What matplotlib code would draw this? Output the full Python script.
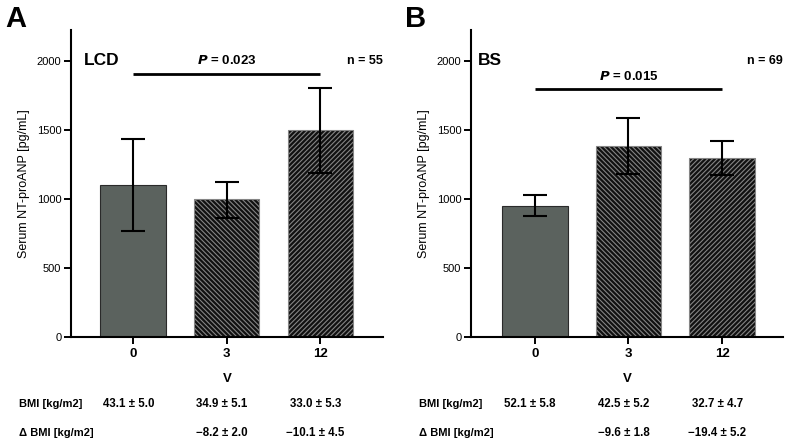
import matplotlib
matplotlib.use('Agg')
import matplotlib.pyplot as plt
import matplotlib.transforms as mtransforms
import numpy as np

plt.rcParams['font.family'] = ['Liberation Sans', 'DejaVu Sans']
plt.rcParams['hatch.linewidth'] = 0.8

# data
visits = ['0', '3', '12']
lcd_mean = [1102, 998, 1500]
lcd_err_hi = [1435, 1121, 1800]
lcd_err_lo = [766, 864, 1186]
bs_mean = [949, 1386, 1295]
bs_err_hi = [1027, 1585, 1415]
bs_err_lo = [877, 1178, 1174]

lcd_bmi = ['43.1 ± 5.0', '34.9 ± 5.1', '33.0 ± 5.3']
lcd_dbmi = ['', '\u22128.2 ± 2.0', '\u221210.1 ± 4.5']
bs_bmi = ['52.1 ± 5.8', '42.5 ± 5.2', '32.7 ± 4.7']
bs_dbmi = ['', '\u22129.6 ± 1.8', '\u221219.4 ± 5.2']

panels = [
    dict(letter='A', group='LCD', n='n = 55', p='0.023', p_line=1906, p_text=2000,
         mean=lcd_mean, hi=lcd_err_hi, lo=lcd_err_lo, bmi=lcd_bmi, dbmi=lcd_dbmi,
         rect=[71, 383], xlim=(-0.663, 2.67), group_x=-0.53),
    dict(letter='B', group='BS', n='n = 69', p='0.015', p_line=1795, p_text=1884,
         mean=bs_mean, hi=bs_err_hi, lo=bs_err_lo, bmi=bs_bmi, dbmi=bs_dbmi,
         rect=[471, 783], xlim=(-0.68, 2.65), group_x=-0.61),
]

W, H = 794, 446
fig = plt.figure(figsize=(W / 100, H / 100), dpi=100)

# first bar plain grey, later bars black with grey diagonal stripes
fills = ['#5b625e', '#111111', '#111111']
edges = ['#2a2a2a', '#858585', '#858585']
hatches = [None, '\\' * 7, '/' * 7]

for pn in panels:
    x0, x1 = pn['rect']
    ax = fig.add_axes([x0 / W, (H - 337) / H, (x1 - x0) / W, (337 - 30) / H])
    x = np.arange(len(visits))
    mean = np.array(pn['mean'])
    yerr = [mean - np.array(pn['lo']), np.array(pn['hi']) - mean]
    for i in range(len(visits)):
        ax.bar(x[i], mean[i], width=0.7, color=fills[i], edgecolor=edges[i],
               linewidth=0.8, hatch=hatches[i], zorder=2)
    ax.errorbar(x, mean, yerr=yerr, fmt='none', ecolor='black', elinewidth=1.5,
                capsize=8.5, capthick=1.5, zorder=3)

    ax.set_xlim(*pn['xlim'])
    ax.set_ylim(0, 2222)
    ax.set_yticks([0, 500, 1000, 1500, 2000])
    ax.set_xticks(x)
    ax.set_xticklabels(visits, fontsize=9.5, fontweight='bold')
    ax.tick_params(axis='y', labelsize=8, length=5, width=1.4, pad=2)
    ax.tick_params(axis='x', length=5, width=1.4, pad=3)
    for s in ['top', 'right']:
        ax.spines[s].set_visible(False)
    for s in ['left', 'bottom']:
        ax.spines[s].set_linewidth(1.5)
    ax.set_xlabel('V', fontsize=9.5, fontweight='bold', labelpad=9)
    ax.set_ylabel('Serum NT-proANP [pg/mL]', fontsize=9, labelpad=5)

    ax.text(pn['group_x'], 2000, pn['group'], fontsize=12.5, fontweight='bold',
            va='center', ha='left')
    ax.text(1.0, 2000, pn['n'], transform=ax.get_yaxis_transform(),
            fontsize=9, fontweight='bold', ha='right', va='center')
    ax.plot([0, 2], [pn['p_line']] * 2, color='black', lw=2, solid_capstyle='butt')
    ax.text(1, pn['p_text'], '$\\mathbfit{P}$ = ' + pn['p'], fontsize=9.5,
            fontweight='bold', ha='center', va='center')

    # panel letter
    fig.text((x0 - 55) / W, 1 - 19 / H, pn['letter'], fontsize=21, fontweight='bold',
             ha='center', va='center')

    # BMI rows
    tr = mtransforms.blended_transform_factory(ax.transData, fig.transFigure)
    rows = [('BMI [kg/m2]', pn['bmi'], 404), ('\u0394 BMI [kg/m2]', pn['dbmi'], 433)]
    for label, vals, ypx in rows:
        yy = 1 - ypx / H
        fig.text((x0 - 52) / W, yy, label, fontsize=8, fontweight='bold',
                 ha='left', va='center')
        for i, v in enumerate(vals):
            ax.text(x[i] - 0.05, yy, v, transform=tr,
                    fontsize=8.3, fontweight='bold', ha='center', va='center')

fig.savefig('out.png', dpi=100)
